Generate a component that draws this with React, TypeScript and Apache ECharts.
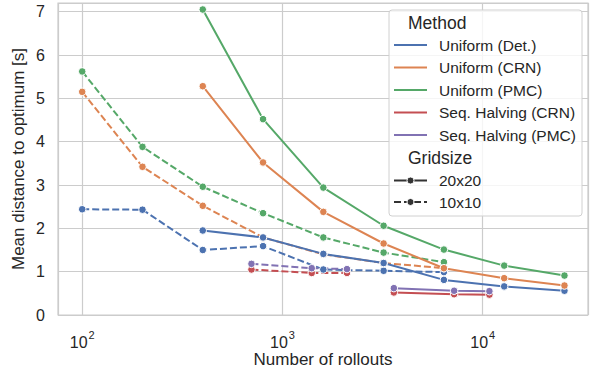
import React, { useEffect, useRef } from "react";
import * as echarts from "echarts";

// x values (number of rollouts)
const rolloutsUniform20 = [400, 800, 1600, 3200, 6400, 12800, 25600];
const rolloutsUniform10 = [100, 200, 400, 800, 1600, 3200, 6400];
const rolloutsSH20 = [3600, 7200, 10800];
const rolloutsSH10 = [700, 1400, 2100];

// y values (mean distance to optimum [s])
const detGrid20 = [1.95, 1.79, 1.41, 1.2, 0.81, 0.66, 0.56];
const crnGrid20 = [5.28, 3.52, 2.38, 1.65, 1.08, 0.85, 0.68];
const pmcGrid20 = [7.05, 4.52, 2.94, 2.06, 1.51, 1.14, 0.91];
const detGrid10 = [2.44, 2.43, 1.5, 1.59, 1.05, 1.02, 0.99];
const crnGrid10 = [5.15, 3.42, 2.52, 1.79, 1.4, 1.2, 1.08];
const pmcGrid10 = [5.62, 3.88, 2.96, 2.35, 1.79, 1.44, 1.22];
const shCrnGrid20 = [0.52, 0.48, 0.47];
const shPmcGrid20 = [0.62, 0.56, 0.55];
const shCrnGrid10 = [1.05, 0.97, 0.97];
const shPmcGrid10 = [1.18, 1.08, 1.06];

const methods = [
  "Uniform (Det.)",
  "Uniform (CRN)",
  "Uniform (PMC)",
  "Seq. Halving (CRN)",
  "Seq. Halving (PMC)",
];
const gridsizes = ["20x20", "10x10"];
const colors = ["#4C72B0", "#DD8452", "#55A868", "#C44E52", "#8172B3"];

const FONT = "Liberation Sans, Arial, Helvetica, sans-serif";
const TXT = "#262626";

function mkSeries(name: string, xs: number[], ys: number[], color: string, dashed: boolean) {
  return {
    type: "line",
    name,
    data: xs.map((x, i) => [x, ys[i]]),
    symbol: "circle",
    symbolSize: 7.5,
    showSymbol: true,
    lineStyle: { color, width: 2, type: dashed ? [7, 3] : "solid" },
    itemStyle: { color, borderColor: "#ffffff", borderWidth: 1 },
    emphasis: { disabled: true },
  };
}

export default function App() {
  const ref = useRef<HTMLDivElement>(null);
  useEffect(() => {
    if (!ref.current) return;
    const chart = echarts.init(ref.current, undefined, { renderer: "svg" });

    const series = [
      mkSeries(methods[0] + " " + gridsizes[1], rolloutsUniform10, detGrid10, colors[0], true),
      mkSeries(methods[1] + " " + gridsizes[1], rolloutsUniform10, crnGrid10, colors[1], true),
      mkSeries(methods[2] + " " + gridsizes[1], rolloutsUniform10, pmcGrid10, colors[2], true),
      mkSeries(methods[3] + " " + gridsizes[1], rolloutsSH10, shCrnGrid10, colors[3], true),
      mkSeries(methods[4] + " " + gridsizes[1], rolloutsSH10, shPmcGrid10, colors[4], true),
      mkSeries(methods[0] + " " + gridsizes[0], rolloutsUniform20, detGrid20, colors[0], false),
      mkSeries(methods[1] + " " + gridsizes[0], rolloutsUniform20, crnGrid20, colors[1], false),
      mkSeries(methods[2] + " " + gridsizes[0], rolloutsUniform20, pmcGrid20, colors[2], false),
      mkSeries(methods[3] + " " + gridsizes[0], rolloutsSH20, shCrnGrid20, colors[3], false),
      mkSeries(methods[4] + " " + gridsizes[0], rolloutsSH20, shPmcGrid20, colors[4], false),
    ];

    // Legend
    const lx = 389, ly = 10, lw = 193, lh = 206;
    const g: any[] = [
      {
        type: "rect",
        shape: { x: lx, y: ly, width: lw, height: lh, r: 3 },
        style: { fill: "rgba(255,255,255,0.8)", stroke: "#d0d0d0", lineWidth: 1 },
        z: 100,
      },
      {
        type: "text",
        x: 408, y: 23,
        style: { text: "Method", font: `17.5px ${FONT}`, fill: TXT, verticalAlign: "middle" },
        z: 101,
      },
    ];
    const rowsY = [45, 67.5, 90, 112.5, 135];
    methods.forEach((m, i) => {
      g.push({
        type: "line",
        shape: { x1: 394, y1: rowsY[i], x2: 427, y2: rowsY[i] },
        style: { stroke: colors[i], lineWidth: 2 },
        z: 101,
      });
      g.push({
        type: "text",
        x: 439, y: rowsY[i],
        style: { text: m, font: `15.5px ${FONT}`, fill: TXT, verticalAlign: "middle" },
        z: 101,
      });
    });
    g.push({
      type: "text",
      x: 408, y: 158,
      style: { text: "Gridsize", font: `17.5px ${FONT}`, fill: TXT, verticalAlign: "middle" },
      z: 101,
    });
    const gy = [180.5, 202];
    gridsizes.forEach((gs, i) => {
      g.push({
        type: "line",
        shape: { x1: 394, y1: gy[i], x2: 427, y2: gy[i] },
        style: { stroke: "#333333", lineWidth: 2, lineDash: i === 1 ? [7, 3] : null },
        z: 101,
      });
      g.push({
        type: "circle",
        shape: { cx: 410.5, cy: gy[i], r: 3.5 },
        style: { fill: "#333333", stroke: "#ffffff", lineWidth: 1 },
        z: 102,
      });
      g.push({
        type: "text",
        x: 439, y: gy[i],
        style: { text: gs, font: `15.5px ${FONT}`, fill: TXT, verticalAlign: "middle" },
        z: 101,
      });
    });

    chart.setOption({
      animation: false,
      textStyle: { fontFamily: FONT },
      grid: {
        left: 58,
        right: 9,
        top: 3,
        bottom: 61,
        show: true,
        borderColor: "#cccccc",
        borderWidth: 1.2,
        containLabel: false,
        outerBoundsMode: "none",
      },
      xAxis: {
        type: "log",
        logBase: 10,
        min: 75.7,
        max: 33560,
        name: "Number of rollouts",
        nameLocation: "middle",
        nameGap: 36,
        nameMoveOverlap: false,
        nameTextStyle: { fontSize: 17, color: TXT, fontFamily: FONT },
        axisLine: { show: false },
        axisTick: { show: false },
        minorTick: { show: false },
        splitLine: { show: true, lineStyle: { color: "#cccccc", width: 1.2 } },
        axisLabel: {
          margin: 14,
          color: TXT,
          formatter: (v: number) => {
            const e = Math.log10(v);
            if (Math.abs(e - Math.round(e)) > 1e-6) return "";
            return `{b|10}{s|${Math.round(e)}}`;
          },
          rich: {
            b: { fontSize: 16, color: TXT, fontFamily: FONT, lineHeight: 21, verticalAlign: "bottom" },
            s: { fontSize: 11, color: TXT, fontFamily: FONT, verticalAlign: "top", lineHeight: 11, padding: [0, 0, 0, 1] },
          },
        },
      },
      yAxis: {
        type: "value",
        min: 0,
        max: 7.2,
        interval: 1,
        name: "Mean distance to optimum [s]",
        nameLocation: "middle",
        nameGap: 31,
        nameMoveOverlap: false,
        nameTextStyle: { fontSize: 17, color: TXT, fontFamily: FONT },
        axisLine: { show: false },
        axisTick: { show: false },
        splitLine: { show: true, lineStyle: { color: "#cccccc", width: 1.2 } },
        axisLabel: {
          margin: 13,
          fontSize: 16,
          color: TXT,
          formatter: (v: number) => (Number.isInteger(v) ? String(v) : ""),
        },
      },
      series,
      graphic: g,
    });
    return () => chart.dispose();
  }, []);
  return (
    <div
      ref={ref}
      style={{ position: "fixed", left: 0, top: 0, width: 597, height: 376, background: "#ffffff" }}
    />
  );
}
